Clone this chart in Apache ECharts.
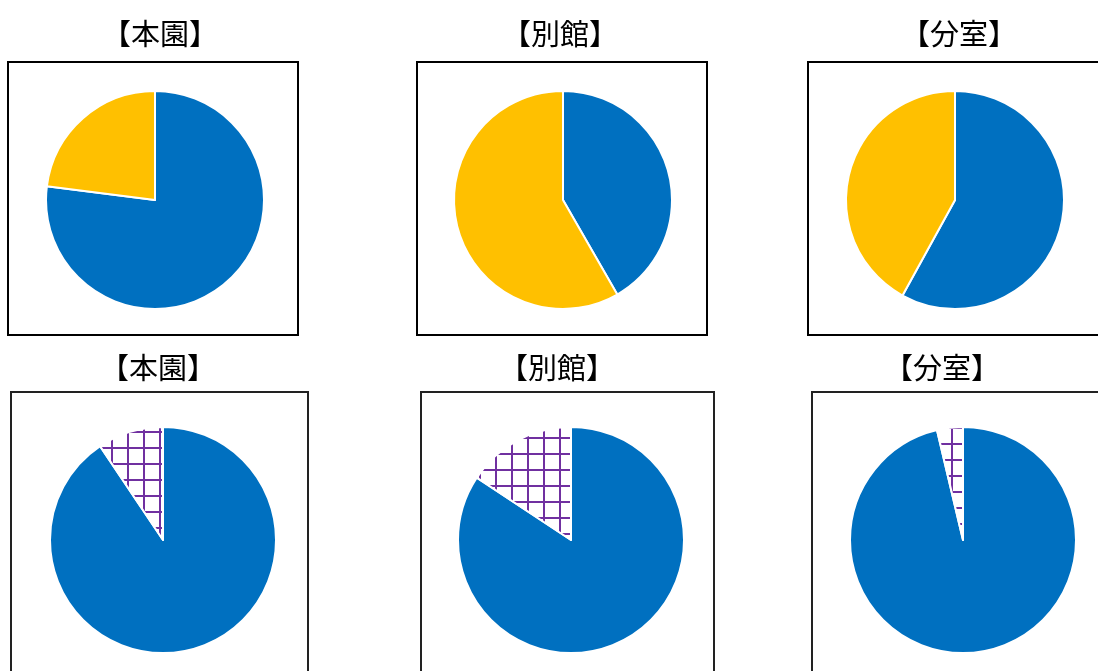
<!DOCTYPE html>
<html>
<head>
<meta charset="utf-8">
<script src="https://cdn.jsdelivr.net/npm/echarts@6/dist/echarts.min.js"></script>
<style>
  html, body { margin: 0; padding: 0; background: #fff; }
  #chart { width: 1098px; height: 671px; }
</style>
</head>
<body>
<div id="chart"></div>
<script>
// Site names (one column per site)
const sites = ['本園', '別館', '分室'];

// Upper row: two-part split per site (percent)
const upperBlue = [77, 41.7, 58];
const upperYellow = [23, 58.3, 42];

// Lower row: two-part split per site (percent)
const lowerBlue = [90.6, 84.3, 96.3];
const lowerHatched = [9.4, 15.7, 3.7];

// Layout of each panel
const upperCenters = [[155, 200], [563, 200], [955, 200]];
const lowerCenters = [[163, 540], [571, 540], [963, 540]];
const upperTitleX = [155, 555, 954];
const lowerTitleX = [153, 552, 937];
const upperBoxes = [[8, 62, 290, 273], [417, 62, 290, 273], [808, 62, 291, 273]];
const lowerBoxes = [[11, 392, 297, 300], [421, 392, 293, 300], [812, 392, 300, 300]];
const hatchOffsets = [[-1, -1], [-1, 5], [7, 11]];

const BLUE = '#0070C0';
const YELLOW = '#FFC000';
const PURPLE = '#7030A0';

// Purple square-grid tile on white
function gridTile() {
  const size = 16;
  const c = document.createElement('canvas');
  c.width = size; c.height = size;
  const ctx = c.getContext('2d');
  ctx.fillStyle = '#fff';
  ctx.fillRect(0, 0, size, size);
  ctx.strokeStyle = PURPLE;
  ctx.lineWidth = 2;
  ctx.beginPath();
  ctx.moveTo(1, 0); ctx.lineTo(1, size);
  ctx.moveTo(0, 1); ctx.lineTo(size, 1);
  ctx.stroke();
  return c;
}
const tile = gridTile();

const chart = echarts.init(document.getElementById('chart'), null, { renderer: 'canvas' });

const titleStyle = {
  fontFamily: '"Noto Sans CJK JP", "Noto Sans", sans-serif',
  fontSize: 29,
  fontWeight: 'normal',
  color: '#000'
};

const titles = [];
const series = [];
const graphics = [];

sites.forEach((name, i) => {
  titles.push({
    text: '【' + name + '】',
    left: upperTitleX[i], top: 14,
    textAlign: 'center',
    textStyle: titleStyle
  });
  titles.push({
    text: '【' + name + '】',
    left: lowerTitleX[i], top: 348,
    textAlign: 'center',
    textStyle: titleStyle
  });

  const ub = upperBoxes[i];
  const lb = lowerBoxes[i];
  graphics.push({
    type: 'rect',
    shape: { x: ub[0], y: ub[1], width: ub[2], height: ub[3] },
    style: { fill: 'none', stroke: '#000', lineWidth: 2 },
    z: -1
  });
  graphics.push({
    type: 'rect',
    shape: { x: lb[0], y: lb[1], width: lb[2], height: lb[3] },
    style: { fill: 'none', stroke: '#222', lineWidth: 2 },
    z: -1
  });

  const common = {
    type: 'pie',
    radius: 109,
    startAngle: 90,
    clockwise: true,
    animation: false,
    silent: true,
    label: { show: false },
    labelLine: { show: false },
    itemStyle: { borderColor: '#fff', borderWidth: 2 }
  };

  series.push(Object.assign({}, common, {
    name: name + '-upper',
    center: upperCenters[i],
    data: [
      { value: upperBlue[i], itemStyle: { color: BLUE } },
      { value: upperYellow[i], itemStyle: { color: YELLOW } }
    ]
  }));

  series.push(Object.assign({}, common, {
    name: name + '-lower',
    radius: 113,
    center: lowerCenters[i],
    data: [
      { value: lowerBlue[i], itemStyle: { color: BLUE } },
      {
        value: lowerHatched[i],
        itemStyle: {
          color: { image: tile, repeat: 'repeat', x: hatchOffsets[i][0], y: hatchOffsets[i][1] }
        }
      }
    ]
  }));
});

chart.setOption({
  backgroundColor: '#fff',
  title: titles,
  series: series,
  graphic: graphics
});
</script>
</body>
</html>
